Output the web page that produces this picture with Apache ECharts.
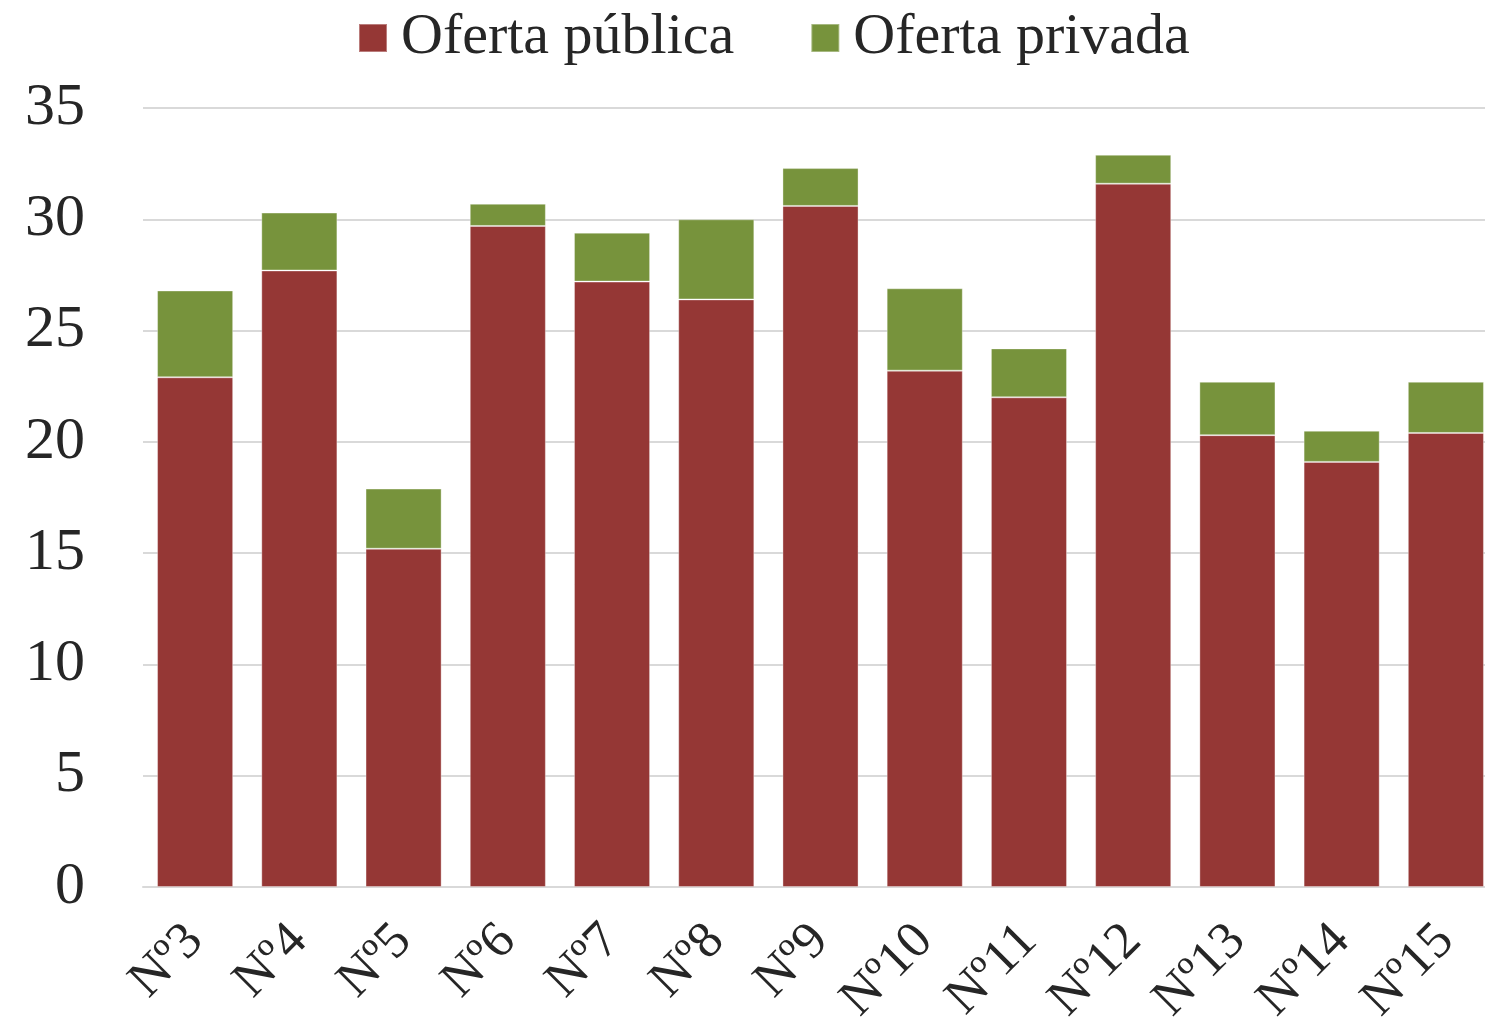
<!DOCTYPE html>
<html>
<head>
<meta charset="utf-8">
<script src="https://cdn.jsdelivr.net/npm/echarts@6/dist/echarts.min.js"></script>
<style>
  html, body { margin: 0; padding: 0; background: #fff; }
  #chart { width: 1485px; height: 1031px; }
</style>
</head>
<body>
<div id="chart"></div>
<script>
// categorías
var categorias = ['Nº3', 'Nº4', 'Nº5', 'Nº6', 'Nº7', 'Nº8', 'Nº9', 'Nº10', 'Nº11', 'Nº12', 'Nº13', 'Nº14', 'Nº15']
// oferta pública
var ofertaPublica = [22.9, 27.7, 15.2, 29.7, 27.2, 26.4, 30.6, 23.2, 22.0, 31.6, 20.3, 19.1, 20.4]
// oferta privada
var ofertaPrivada = [3.9, 2.6, 2.7, 1.0, 2.2, 3.6, 1.7, 3.7, 2.2, 1.3, 2.4, 1.4, 2.3]

var fuente = 'Liberation Serif'

var chart = echarts.init(document.getElementById('chart'))
chart.setOption({
  animation: false,
  color: ['#953735', '#77933C'],
  legend: {
    top: 4,
    left: 353,
    itemWidth: 28,
    itemHeight: 28,
    itemGap: 76,
    icon: 'rect',
    textStyle: { fontFamily: fuente, fontSize: 58, color: '#262626', padding: [0, 0, 0, 9] },
    data: ['Oferta pública', 'Oferta privada']
  },
  grid: {
    left: 143,
    right: -13,
    top: 108,
    bottom: 144,
    outerBoundsMode: 'none'
  },
  xAxis: {
    type: 'category',
    data: categorias,
    axisLine: { lineStyle: { color: '#d9d9d9', width: 2 } },
    axisTick: { show: false },
    axisLabel: {
      rotate: 45,
      margin: 46,
      fontFamily: fuente,
      fontSize: 52,
      color: '#262626'
    }
  },
  yAxis: {
    type: 'value',
    min: 0,
    max: 35,
    interval: 5,
    axisLine: { show: false },
    axisTick: { show: false },
    splitLine: { lineStyle: { color: '#d9d9d9', width: 2 } },
    axisLabel: {
      margin: 58,
      fontFamily: fuente,
      fontSize: 60,
      color: '#262626',
      padding: [12, 0, 0, 0]
    }
  },
  series: [
    {
      name: 'Oferta pública',
      type: 'bar',
      stack: 'total',
      barCategoryGap: '27%',
      itemStyle: { borderColor: 'rgba(255,255,255,0.35)', borderWidth: 1 },
      data: ofertaPublica
    },
    {
      name: 'Oferta privada',
      type: 'bar',
      stack: 'total',
      barCategoryGap: '27%',
      itemStyle: { borderColor: 'rgba(255,255,255,0.35)', borderWidth: 1 },
      data: ofertaPrivada
    }
  ]
})
</script>
</body>
</html>
